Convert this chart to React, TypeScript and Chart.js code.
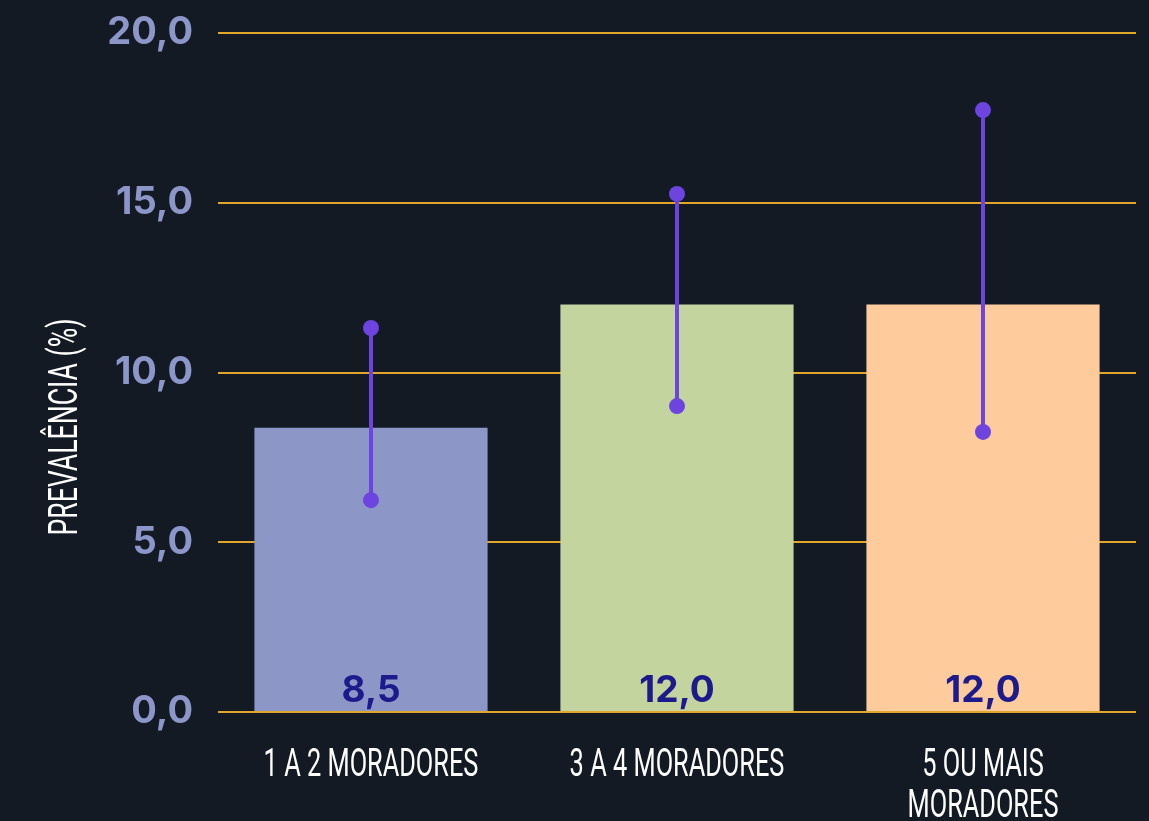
import React, { useEffect, useRef } from "react";
import { Chart, registerables } from "chart.js";

Chart.register(...registerables);

const categories: string[][] = [["1 A 2 MORADORES"], ["3 A 4 MORADORES"], ["5 OU MAIS", "MORADORES"]];
const prevalence = [8.37, 12.0, 12.0];
const valueLabels = ["8,5", "12,0", "12,0"];
const lowerCI = [6.24, 9.01, 8.25];
const upperCI = [11.31, 15.26, 17.73];
const yTicks = [0, 5, 10, 15, 20];
const barColors = ["#8c97c7", "#c4d49f", "#fecb9d"];
const yTitle = "PREVALÊNCIA (%)";

const BG = "#131a24";
const COND_FONT = "400 39px Roboto";
const COND_SCALE = 0.65;

const errorBarPlugin = {
  id: "errorBars",
  afterDatasetsDraw(chart: any) {
    const { ctx, scales } = chart;
    const x = scales.x;
    const y = scales.y;
    ctx.save();
    for (let i = 0; i < categories.length; i++) {
      const px = x.getPixelForValue(i);
      const yl = y.getPixelForValue(lowerCI[i]);
      const yh = y.getPixelForValue(upperCI[i]);
      ctx.strokeStyle = "#6d44e0";
      ctx.lineWidth = 4;
      ctx.beginPath();
      ctx.moveTo(px, yl);
      ctx.lineTo(px, yh);
      ctx.stroke();
      ctx.fillStyle = "#6d44e0";
      for (const yy of [yl, yh]) {
        ctx.beginPath();
        ctx.arc(px, yy, 8, 0, Math.PI * 2);
        ctx.fill();
      }
    }
    // value labels
    ctx.fillStyle = "#1d1a8c";
    ctx.font = "bold 37px Inter";
    ctx.textAlign = "center";
    ctx.textBaseline = "alphabetic";
    const base = y.getPixelForValue(0);
    for (let i = 0; i < categories.length; i++) {
      const px = x.getPixelForValue(i);
      ctx.fillText(valueLabels[i], px, base - 10);
    }
    // x category labels (condensed)
    ctx.fillStyle = "#ffffff";
    ctx.font = COND_FONT;
    for (let i = 0; i < categories.length; i++) {
      const px = x.getPixelForValue(i);
      categories[i].forEach((line, j) => {
        ctx.save();
        ctx.translate(px, base + 64 + j * 41);
        ctx.scale(COND_SCALE, 1);
        ctx.fillText(line, 0, 0);
        ctx.restore();
      });
    }
    // y title (condensed, rotated)
    ctx.save();
    ctx.translate(77, 427);
    ctx.rotate(-Math.PI / 2);
    ctx.scale(COND_SCALE, 1);
    ctx.font = "400 41px Roboto";
    ctx.fillText(yTitle, 0, 0);
    ctx.restore();
    ctx.restore();
  },
};

const bgPlugin = {
  id: "bg",
  beforeDraw(chart: any) {
    const { ctx, width, height } = chart;
    ctx.save();
    ctx.fillStyle = BG;
    ctx.fillRect(0, 0, width, height);
    ctx.restore();
  },
};

export default function App() {
  const ref = useRef<HTMLCanvasElement | null>(null);
  useEffect(() => {
    if (!ref.current) return;
    const chart = new Chart(ref.current, {
      type: "bar",
      data: {
        labels: categories.map((c) => c.join(" ")),
        datasets: [
          {
            data: prevalence,
            backgroundColor: barColors,
            borderWidth: 0,
            categoryPercentage: 1,
            barPercentage: 0.762,
          },
        ],
      },
      options: {
        animation: false,
        responsive: true,
        maintainAspectRatio: false,
        layout: { padding: { top: 33, right: 13, left: 0, bottom: 0 } },
        plugins: { legend: { display: false }, tooltip: { enabled: false } },
        scales: {
          x: {
            grid: { display: false },
            border: { display: false },
            ticks: { display: false },
            afterFit(scale: any) {
              scale.height = 109;
              scale.paddingLeft = 0;
              scale.paddingRight = 0;
            },
          },
          y: {
            min: 0,
            max: 20,
            afterBuildTicks(scale: any) {
              scale.ticks = yTicks.map((v) => ({ value: v }));
            },
            grid: { color: "#e2a62a", lineWidth: 2, drawTicks: false },
            border: { display: false },
            ticks: {
              color: "#8c96c8",
              font: { family: "Inter", weight: "bold", size: 38 },
              padding: 25,
              callback: (v: any) => Number(v).toFixed(1).replace(".", ","),
            },
            afterFit(scale: any) {
              scale.width = 218;
              scale.paddingTop = 0;
              scale.paddingBottom = 0;
            },
          },
        },
      },
      plugins: [bgPlugin, errorBarPlugin],
    });
    return () => chart.destroy();
  }, []);
  return (
    <div style={{ position: "fixed", left: 0, top: 0, width: 1149, height: 821, background: BG }}>
      <canvas ref={ref} />
    </div>
  );
}
